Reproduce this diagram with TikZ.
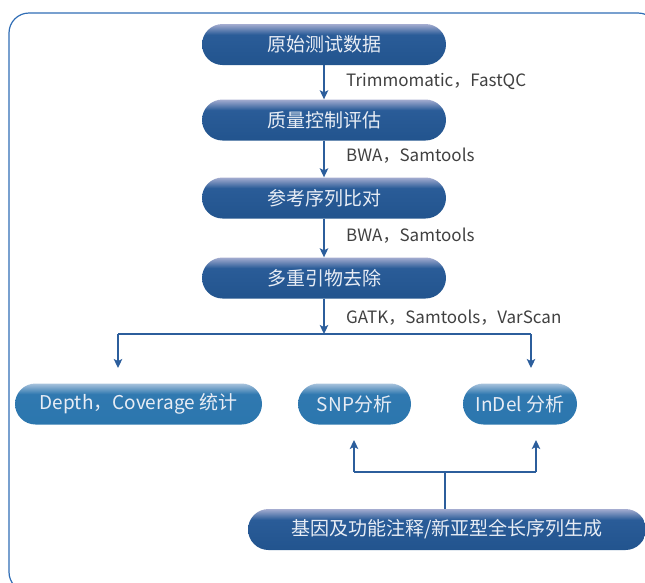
\documentclass[tikz,border=0pt]{standalone}
\usepackage{fontspec}
\setmainfont{Noto Sans CJK SC}
\usetikzlibrary{arrows.meta,calc}
\definecolor{frameblue}{HTML}{2F6DB5}
\definecolor{linkblue}{HTML}{2C5E9C}
\definecolor{navyD}{HTML}{22548E}
\definecolor{navyM}{HTML}{2A5C98}
\definecolor{navyL}{HTML}{A4ACD0}
\definecolor{skyD}{HTML}{2B76AE}
\definecolor{skyM}{HTML}{3079B0}
\definecolor{skyL}{HTML}{A8C2DC}
\definecolor{boxtext}{HTML}{E8EDF5}
\definecolor{labeltext}{HTML}{404040}
\pgfdeclareverticalshading{navybar}{100bp}{color(0bp)=(navyD); color(25bp)=(navyD); color(62bp)=(navyM); color(75bp)=(navyL); color(100bp)=(navyL)}
\pgfdeclareverticalshading{skybar}{100bp}{color(0bp)=(skyD); color(25bp)=(skyD); color(62bp)=(skyM); color(75bp)=(skyL); color(100bp)=(skyL)}
\tikzset{
  pill/.style={rectangle, rounded corners=20.5pt, minimum height=41pt, inner sep=0pt,
    text=boxtext, font=\fontsize{19}{21}\selectfont},
  navypill/.style={pill, shading=navybar},
  skypill/.style={pill, shading=skybar},
  lbl/.style={anchor=west, text=labeltext, font=\fontsize{17}{19}\selectfont, inner sep=0pt},
  link/.style={draw=linkblue, line width=1.3pt},
  arr/.style={link, -{Stealth[length=9pt,width=8.5pt,inset=2pt]}},
}
\begin{document}
\begin{tikzpicture}[x=1pt,y=-1pt]
\useasboundingbox (0,0) rectangle (645,582);
\begin{scope}
\clip (0,0) rectangle (645,582);
\draw[frameblue, line width=1.2pt, rounded corners=20pt] (9,13) rectangle (658,592);
\end{scope}
% main column
\node[navypill, minimum width=244pt] (b1) at (324,44.5) {原始测试数据};
\node[navypill, minimum width=244pt] (b2) at (324,120) {质量控制评估};
\node[navypill, minimum width=244pt] (b3) at (324,198) {参考序列比对};
\node[navypill, minimum width=244pt] (b4) at (324,278) {多重引物去除};
\draw[arr] (b1.south) -- (b2.north);
\draw[arr] (b2.south) -- (b3.north);
\draw[arr] (b3.south) -- (b4.north);
\node[lbl] (l1) at (346,81) {Trimmomatic，FastQC};
\node[lbl] (l2) at (346,156) {BWA，Samtools};
\node[lbl] (l3) at (346,236) {BWA，Samtools};
\node[lbl] (l4) at (346,318) {GATK，Samtools，VarScan};
% split
\coordinate (sp) at (324,334);
\coordinate (spL) at (118,334);
\coordinate (spR) at (531,334);
\coordinate (tL) at (118,368);
\coordinate (tR) at (531,368);
\draw[arr] (b4.south) -- (sp);
\draw[link] (spL) -- (spR);
\draw[arr] (spL) -- (tL);
\draw[arr] (spR) -- (tR);
% second row
\node[skypill, minimum width=247pt] (d) at (138.5,404) {Depth，Coverage 统计};
\node[skypill, minimum width=113pt] (snp) at (354.5,404) {SNP分析};
\node[skypill, minimum width=114pt] (ind) at (520,404) {InDel 分析};
% bottom
\node[navypill, minimum width=398pt] (ann) at (447,529.5) {基因及功能注释/新亚型全长序列生成};
\coordinate (jc) at (445,472);
\coordinate (jL) at (354,472);
\coordinate (jR) at (536,472);
\coordinate (uL) at (354,440);
\coordinate (uR) at (536,440);
\draw[link] (ann.north -| jc) -- (jc);
\draw[link] (jL) -- (jR);
\draw[arr] (jL) -- (uL);
\draw[arr] (jR) -- (uR);
\end{tikzpicture}
\end{document}
